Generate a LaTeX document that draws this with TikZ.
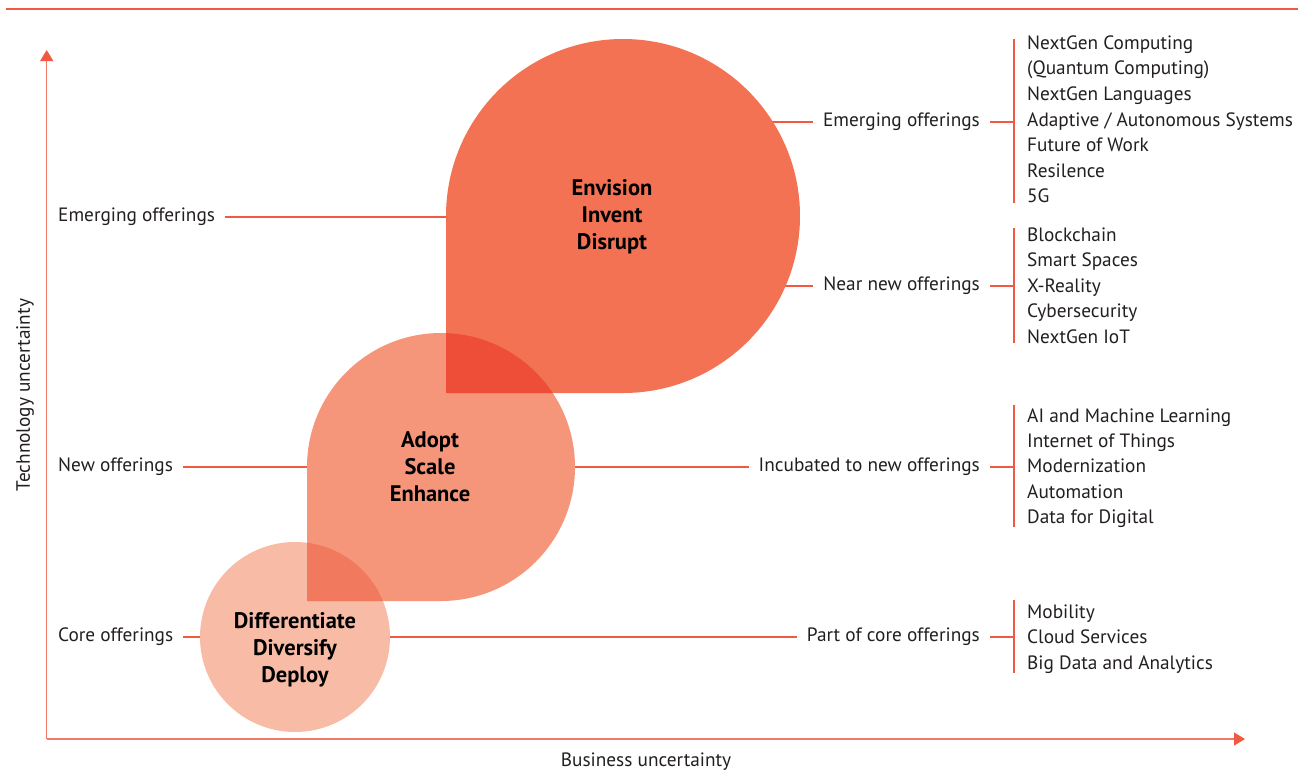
\documentclass[tikz,border=0pt]{standalone}
\usepackage{fontspec}
\setmainfont{PT Sans}
\usetikzlibrary{arrows.meta,calc}

\definecolor{linered}{HTML}{EF5A41}
\definecolor{axisred}{HTML}{F07A66}
\definecolor{envfill}{HTML}{F37254}
\definecolor{adoptfill}{HTML}{F5967A}
\definecolor{difffill}{HTML}{F8BCA6}
\definecolor{envadopt}{HTML}{EE4E38}
\definecolor{adoptdiff}{HTML}{F17A5E}
\definecolor{txt}{HTML}{231F20}

\newcommand{\droppath}[3]{({#1-#3},{#2+#3}) -- ({#1-#3},#2) arc (180:450:#3) -- cycle}

\begin{document}
\begin{tikzpicture}[x=1pt,y=-1pt,
    lbl/.style={font=\fontsize{19.3}{24}\selectfont, text=txt, inner xsep=10pt, inner ysep=0pt},
    item/.style={font=\fontsize{19.3}{24}\selectfont, text=txt, anchor=base west, inner sep=0pt},
    stage/.style={font=\bfseries\fontsize{22.5}{27}\selectfont, text=black, align=center},
    conn/.style={draw=linered, line width=1.6pt},
    axis/.style={draw=axisred, line width=1.2pt, -{Triangle[length=11pt,width=13pt,color=linered]}}]
  \useasboundingbox (0,0) rectangle (1304,780);

  \coordinate (topl) at (6,9);
  \coordinate (topr) at (1298,9);
  \draw[linered, line width=2.5pt] (topl) -- (topr);

  \coordinate (orig) at (46.7,739);
  \coordinate (ytip) at (46.7,50);
  \coordinate (xtip) at (1245,739);
  \draw[axis] (orig) -- (ytip);
  \draw[axis] (orig) -- (xtip);
  \node[lbl, rotate=90] (yaxis) at (25,395) {Technology uncertainty};
  \node[lbl] (xaxis) at (646,762) {Business uncertainty};

  \node[lbl, anchor=west] (lemerg) at (48,217) {Emerging offerings};
  \node[lbl, anchor=west] (lnew) at (48,467) {New offerings};
  \node[lbl, anchor=west] (lcore) at (48,637) {Core offerings};

  \node[lbl, anchor=east] (remerg) at (990,121.7) {Emerging offerings};
  \node[lbl, anchor=east] (rnear) at (990,285.7) {Near new offerings};
  \node[lbl, anchor=east] (rincub) at (990,467) {Incubated to new offerings};
  \node[lbl, anchor=east] (rcore) at (990,637) {Part of core offerings};

  \coordinate (env-w) at (446,217);
  \coordinate (env-e1) at (760,121.7);
  \coordinate (env-e2) at (770,285.7);
  \coordinate (adopt-w) at (307,467);
  \coordinate (adopt-e) at (560,467);
  \coordinate (diff-w) at (200,637);
  \coordinate (diff-e) at (380,637);

  \draw[conn] (lemerg.east) -- (env-w);
  \draw[conn] (lnew.east) -- (adopt-w);
  \draw[conn] (lcore.east) -- (diff-w);
  \draw[conn] (env-e1) -- (remerg.west);
  \draw[conn] (env-e2) -- (rnear.west);
  \draw[conn] (adopt-e) -- (rincub.west);
  \draw[conn] (diff-e) -- (rcore.west);

  \foreach \t [count=\i from 0] in {NextGen Computing, (Quantum Computing), NextGen Languages,
      Adaptive / Autonomous Systems, Future of Work, Resilence, 5G}
    \node[item] (em\i) at (1027,49.3+25.57*\i) {\t};
  \foreach \t [count=\i from 0] in {Blockchain, Smart Spaces, X-Reality, Cybersecurity, NextGen IoT}
    \node[item] (nr\i) at (1027,241+25.5*\i) {\t};
  \foreach \t [count=\i from 0] in {AI and Machine Learning, Internet of Things, Modernization,
      Automation, Data for Digital}
    \node[item] (in\i) at (1027,422.3+25.25*\i) {\t};
  \foreach \t [count=\i from 0] in {Mobility, Cloud Services, Big Data and Analytics}
    \node[item] (co\i) at (1027,618+25.5*\i) {\t};

  \coordinate (em-top) at (1014,39.3);
  \coordinate (em-bot) at (1014,203);
  \coordinate (nr-top) at (1014,228);
  \coordinate (nr-bot) at (1014,343);
  \coordinate (in-top) at (1014,405);
  \coordinate (in-bot) at (1014,527.3);
  \coordinate (co-top) at (1014,600);
  \coordinate (co-bot) at (1014,673.3);
  \draw[conn] (em-top) -- (em-bot);
  \draw[conn] (nr-top) -- (nr-bot);
  \draw[conn] (in-top) -- (in-bot);
  \draw[conn] (co-top) -- (co-bot);
  \draw[conn] (remerg.east) -- (remerg.east -| em-top);
  \draw[conn] (rnear.east) -- (rnear.east -| nr-top);
  \draw[conn] (rincub.east) -- (rincub.east -| in-top);
  \draw[conn] (rcore.east) -- (rcore.east -| co-top);

  \fill[difffill] (295,637) circle (95);
  \fill[adoptfill] \droppath{441}{467}{134};
  \fill[envfill] \droppath{623}{216}{177};
  \begin{scope}
    \clip \droppath{623}{216}{177};
    \fill[envadopt] \droppath{441}{467}{134};
  \end{scope}
  \begin{scope}
    \clip \droppath{441}{467}{134};
    \fill[adoptdiff] (295,637) circle (95);
  \end{scope}

  \node[stage] (envision) at (612,217) {Envision\\Invent\\Disrupt};
  \node[stage] (adopt) at (430,467) {Adopt\\Scale\\Enhance};
  \node[stage] (diff) at (295,650) {Differentiate\\Diversify\\Deploy};
\end{tikzpicture}
\end{document}
